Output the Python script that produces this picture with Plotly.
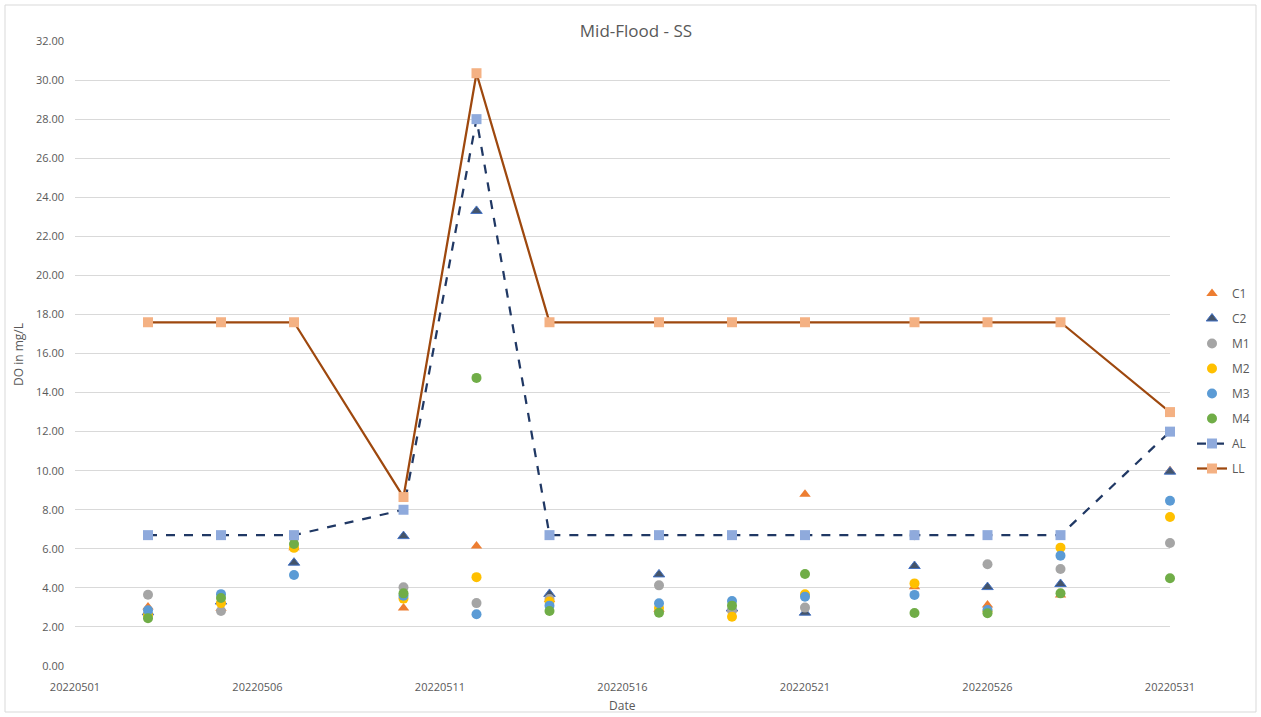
import plotly.graph_objects as go

dates = [20220503, 20220505, 20220507, 20220510, 20220512, 20220514, 20220517,
         20220519, 20220521, 20220524, 20220526, 20220528, 20220531]

C1 = [3.02, 2.95, 6.05, 2.97, 6.15, 3.40, 2.90, 2.90, 8.79, 4.06, 3.12, 3.64, 10.0]
C2 = [2.75, 3.30, 5.29, 6.65, 23.3, 3.69, 4.69, 2.95, 2.73, 5.12, 4.04, 4.20, 9.95]
M1 = [3.65, 2.82, 6.55, 4.03, 3.22, 3.43, 4.13, 2.83, 2.99, 6.70, 5.21, 4.97, 6.30]
M2 = [2.60, 3.22, 6.05, 3.45, 4.55, 3.30, 2.97, 2.52, 3.67, 4.23, 2.80, 6.06, 7.63]
M3 = [2.85, 3.68, 4.66, 3.60, 2.65, 3.09, 3.21, 3.33, 3.55, 3.64, 2.87, 5.65, 8.46]
M4 = [2.45, 3.48, 6.25, 3.72, 14.75, 2.82, 2.73, 3.09, 4.71, 2.71, 2.70, 3.72, 4.49]
AL = [6.7, 6.7, 6.7, 8.0, 28.0, 6.7, 6.7, 6.7, 6.7, 6.7, 6.7, 6.7, 12.0]
LL = [17.6, 17.6, 17.6, 8.65, 30.35, 17.6, 17.6, 17.6, 17.6, 17.6, 17.6, 17.6, 13.0]

x_ticks = [20220501, 20220506, 20220511, 20220516, 20220521, 20220526, 20220531]
y_ticks = [0, 2, 4, 6, 8, 10, 12, 14, 16, 18, 20, 22, 24, 26, 28, 30, 32]

W, H = 1261, 717
L, R, T, B = 75, 1170, 41, 666

fig = go.Figure()

def pts(name, y, color, symbol, outline=None):
    fig.add_trace(go.Scatter(
        x=dates, y=y, name=name, mode="markers", legendgroup=name, cliponaxis=False,
        marker=dict(color=color, symbol=symbol, size=10,
                    line=dict(width=1 if outline else 0, color=outline or color)),
    ))

pts("C1", C1, "#ED7D31", "triangle-up")
pts("C2", C2, "#44546A", "triangle-up", "#4472C4")
pts("M1", M1, "#A5A5A5", "circle")
pts("M2", M2, "#FFC000", "circle")
pts("M3", M3, "#5B9BD5", "circle")
pts("M4", M4, "#70AD47", "circle")

fig.add_trace(go.Scatter(
    x=dates, y=AL, name="AL", mode="lines+markers", legendgroup="AL", cliponaxis=False,
    line=dict(color="#203864", width=2.25, dash="dash"),
    marker=dict(color="#8FAADC", symbol="square", size=10),
))
fig.add_trace(go.Scatter(
    x=dates, y=LL, name="LL", mode="lines+markers", legendgroup="LL", cliponaxis=False,
    line=dict(color="#9E480E", width=2.25),
    marker=dict(color="#F4B183", symbol="square", size=10),
))

pw = R - L
ph = B - T

fig.update_layout(
    width=W, height=H,
    margin=dict(l=L, r=W - R, t=T, b=H - B, autoexpand=False),
    plot_bgcolor="white", paper_bgcolor="white",
    font=dict(family="Open Sans, Liberation Sans, Arial", color="#595959", size=11),
    title=dict(text="Mid-Flood - SS", x=636 / W, xref="container", xanchor="center",
               y=1 - 31 / H, yref="container", yanchor="middle",
               font=dict(size=17, color="#595959")),
    showlegend=True,
    legend=dict(x=(1192 - L) / pw, xanchor="left", y=(B - 381) / ph, yanchor="middle",
                font=dict(size=12, color="#595959"), tracegroupgap=6,
                bgcolor="rgba(0,0,0,0)"),
    xaxis=dict(range=[20220501, 20220531], tickvals=x_ticks,
               ticktext=[str(v) for v in x_ticks], showgrid=False, zeroline=False,
               showline=False, ticks="", ticklabelstandoff=13,
               tickfont=dict(size=11, color="#595959")),
    yaxis=dict(range=[0, 32], tickvals=y_ticks,
               ticktext=[f"{v:.2f}" for v in y_ticks], showgrid=True,
               gridcolor="#D9D9D9", gridwidth=1, zeroline=False, showline=False,
               ticks="", ticklabelstandoff=10,
               tickfont=dict(size=11, color="#595959")),
    annotations=[
        dict(text="DO in mg/L", x=(18 - L) / pw, y=(B - 355) / ph, xref="paper", yref="paper",
             xanchor="center", yanchor="middle",
             showarrow=False, textangle=-90, font=dict(size=12, color="#595959")),
        dict(text="Date", x=(622 - L) / pw, y=(B - 705) / ph, xref="paper", yref="paper",
             xanchor="center", yanchor="middle",
             showarrow=False, font=dict(size=12, color="#595959")),
    ],
    shapes=[
        dict(type="rect", xref="paper", yref="paper",
             x0=(5 - L) / pw, x1=(1256 - L) / pw, y0=(B - 712) / ph, y1=(B - 5) / ph,
             line=dict(color="#D9D9D9", width=1), layer="below"),
    ],
)

fig.write_html("out.html", config={"displayModeBar": False},
               post_script="document.body.style.margin='0';document.body.style.overflow='hidden';")
